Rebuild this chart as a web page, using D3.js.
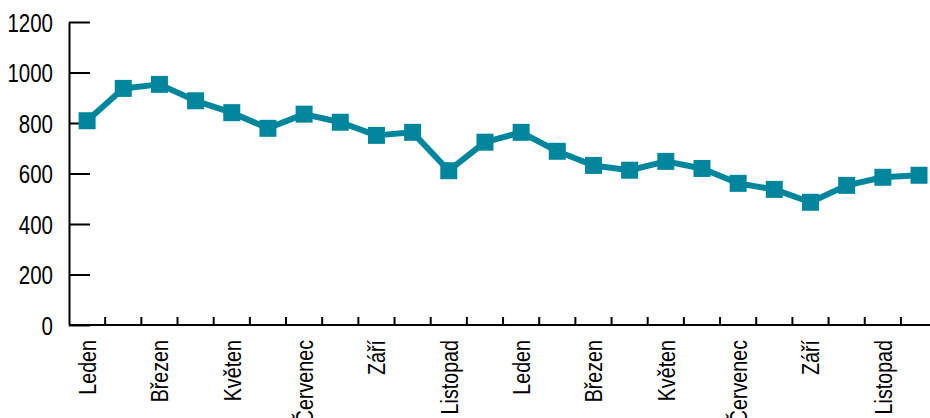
<!DOCTYPE html>
<html>
<head>
<meta charset="utf-8">
<script src="https://cdn.jsdelivr.net/npm/d3@7"></script>
<style>
  html, body { margin: 0; padding: 0; background: #fff; }
  svg { display: block; }
  text { font-family: "Liberation Sans", Arial, sans-serif; fill: #000; }
</style>
</head>
<body>
<div id="line-chart"><svg></svg></div>
<script>
const months = ["Leden", "Únor", "Březen", "Duben", "Květen", "Červen",
  "Červenec", "Srpen", "Září", "Říjen", "Listopad", "Prosinec"];
const categories = months.concat(months).map((m, i) => i + ":" + m);
const values = [809, 937, 953, 888, 841, 779, 835, 803, 751, 763, 611, 724,
  763, 688, 632, 613, 648, 620, 561, 537, 486, 553, 585, 593];
const yTicks = [0, 200, 400, 600, 800, 1000, 1200];

const width = 930;
const height = 418;
const plotLeft = 69;
const plotTop = 22;
const plotBottom = 325;
const color = "#00869c";
const narrow = 0.82; // squeeze Liberation Sans to look like a narrow face

const svg = d3.select("#line-chart").select("svg")
  .attr("width", width)
  .attr("height", height);

const x = d3.scaleBand()
  .domain(categories)
  .range([plotLeft, plotLeft + 24 * 36.17])
  .padding(0);

const y = d3.scaleLinear()
  .domain([0, 1200])
  .range([plotBottom, plotTop]);

// y axis, ticks pointing into the plot
const yAxis = svg.append("g")
  .attr("transform", `translate(${plotLeft},0)`)
  .call(d3.axisLeft(y).tickValues(yTicks).tickFormat(d3.format("d")).tickSize(-21).tickSizeOuter(0));

yAxis.select(".domain").attr("stroke", "#000").attr("stroke-width", 2);
yAxis.selectAll(".tick line").attr("stroke", "#000").attr("stroke-width", 2);
yAxis.selectAll(".tick text")
  .attr("x", 0)
  .attr("dy", "0.36em")
  .attr("transform", `translate(-16,0) scale(${narrow},1)`)
  .style("font-size", "25px");

// x axis: ticks at category boundaries
const boundaries = categories.slice(1).map(c => x(c));
const xAxis = svg.append("g").attr("class", "x-axis");
xAxis.append("line")
  .attr("x1", plotLeft).attr("x2", width)
  .attr("y1", plotBottom).attr("y2", plotBottom)
  .attr("stroke", "#000").attr("stroke-width", 2);
xAxis.selectAll("line.tick")
  .data(boundaries)
  .enter()
  .append("line")
  .attr("class", "tick")
  .attr("x1", d => d).attr("x2", d => d)
  .attr("y1", plotBottom).attr("y2", plotBottom - 8)
  .attr("stroke", "#000").attr("stroke-width", 2);

xAxis.selectAll("text")
  .data(categories.filter((c, i) => i % 2 === 0))
  .enter()
  .append("text")
  .attr("transform", d => `translate(${x(d) + x.bandwidth() / 2 + 9},${plotBottom + 15}) rotate(-90) scale(${narrow},1)`)
  .style("text-anchor", "end")
  .style("font-size", "24px")
  .text(d => d.split(":")[1]);

// series
const pts = values.map((v, i) => ({ x: x(categories[i]) + x.bandwidth() / 2, y: y(v) }));

svg.append("path")
  .datum(pts)
  .attr("fill", "none")
  .attr("stroke", color)
  .attr("stroke-width", 6)
  .attr("stroke-linejoin", "round")
  .attr("d", d3.line().x(d => d.x).y(d => d.y));

const m = 17;
svg.selectAll("rect.marker")
  .data(pts)
  .enter()
  .append("rect")
  .attr("class", "marker")
  .attr("x", d => d.x - m / 2)
  .attr("y", d => d.y - m / 2)
  .attr("width", m)
  .attr("height", m)
  .attr("fill", color);
</script>
</body>
</html>
